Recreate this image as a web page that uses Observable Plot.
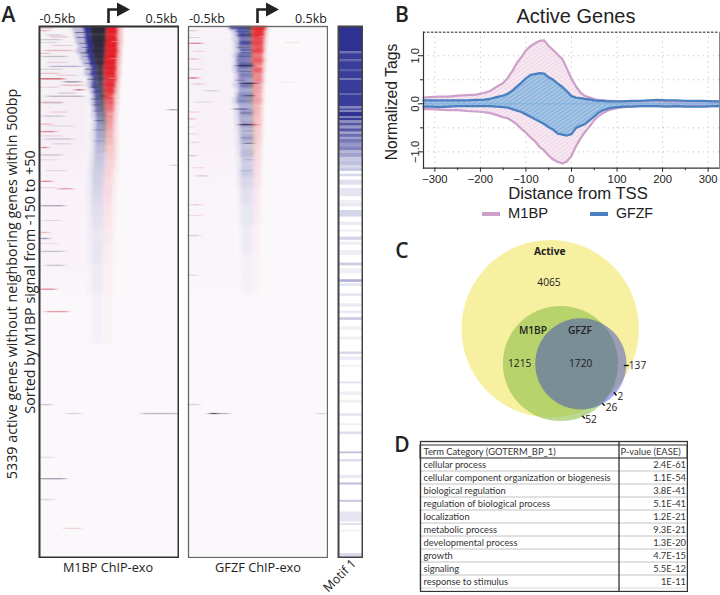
<!DOCTYPE html>
<html><head><meta charset="utf-8">
<script src="https://cdn.jsdelivr.net/npm/d3@7"></script>
<script src="https://cdn.jsdelivr.net/npm/@observablehq/plot@0.6"></script>
<style>
html,body{margin:0;padding:0;background:#fff}
#page{position:relative;width:720px;height:595px;overflow:hidden;background:#fff}
#page svg{position:absolute;background:transparent}
.lab{position:absolute;white-space:nowrap;line-height:1.2;color:#222}
</style></head><body><div id="page"></div>
<script>
// ---------- Panel A: M1BP heatmap profile, one row per gene-rank band (bp from TSS) ----------
const m1bRank=[0,40,85,130,180,230,280,340,400,450,500,560,620,680,740,800,860,920,990,1060,1130,1200,1280,1360,1440,1520,1600,1700,1800,1920,2050,2200,2400,2700];
const m1bFade=[-264,-250,-245,-235,-220,-230,-205,-190,-165,-175,-150,-155,-135,-125,-130,-120,-125,-118,-125,-130,-125,-135,-140,-145,-150,-155,-160,-160,-160,-160,-160,-160,-160,-160];
const m1bBlue=[-180,-172,-168,-165,-156,-160,-146,-135,-122,-128,-115,-120,-105,-98,-100,-95,-90,-88,-90,-92,-95,-100,-105,-110,-115,-118,-120,-120,-120,-120,-120,-120,-120,-120];
const m1bDark=[-135,-130,-128,-125,-118,-120,-110,-100,-88,-92,-85,-82,-75,-72,-70,-65,-60,-55,-50,-45,-40,-40,-40,-40,-40,-40,-45,-45,-45,-45,-45,-45,-45,-45];
const m1bRed=[-12,-15,-14,-18,-20,-20,-24,-26,-30,-30,-28,-30,-28,-25,-22,-20,-15,-12,-12,-14,-15,-18,-20,-22,-25,-30,-35,-35,-35,-35,-35,-35,-35,-35];
const m1bEnd=[62,64,60,66,62,65,60,55,56,52,55,48,44,36,40,38,35,35,34,36,40,44,46,40,30,28,25,25,25,25,25,25,25,25];
const m1bTail=[100,98,100,100,96,95,92,90,84,86,82,80,75,72,74,70,68,66,70,72,72,75,78,75,70,65,62,60,60,60,60,60,60,60];
const m1bBlueOp=[1,1,1,1,1,1,1,1,.95,.95,.9,.85,.85,.85,.75,.7,.62,.55,.48,.42,.36,.3,.26,.23,.21,.19,.17,.15,.13,.11,.09,.07,.05,.03];
const m1bDarkOp=[.95,.95,.95,.95,.92,.92,.9,.88,.85,.85,.8,.7,.65,.6,.5,.4,.3,.25,.18,.1,.08,.05,0,0,0,0,0,0,0,0,0,0,0,0];
const m1bRedOp=[1,1,1,1,1,1,1,1,1,1,.95,.95,.9,.85,.7,.62,.52,.46,.38,.32,.28,.22,.2,.18,.17,.15,.13,.11,.09,.07,.06,.045,.03,.02];
// faint streaks: rank, from bp, to bp, tone, strength
const m1bStreakRank=[40,85,130,240,300,400,470,525,555,590,635,700,760,835,900,980,1055,1130,1215,1290,1395,1555,1630,1800,2070,2130,2260,2400,2640,2865,3800,3890,3890,4330,4545,4755,5045];
const m1bStreakFrom=[-500,-450,-500,-460,-480,-420,-500,-500,-320,-340,-240,-440,-500,430,-480,-500,-500,-460,-480,-500,450,-493,-363,-493,-493,-493,-493,-450,-493,-450,-500,-300,240,-500,-500,-500,-320];
const m1bStreakTo=[-430,-330,-340,-260,-300,-200,-360,-320,-200,-180,-180,-180,-330,500,-320,-400,-380,-260,-440,-340,500,-406,-255,-315,-430,-430,-315,-320,-380,-290,-410,-200,500,-390,-310,-400,-200];
const m1bStreakTone=["r","d","d","r","d","b","r","r","d","r","r","d","r","d","d","r","r","d","r","d","d","r","r","d","r","d","d","d","r","r","d","d","d","d","d","d","r"];
const m1bStreakOp=[.32,.2,.2,.28,.24,.32,.2,.7,.45,.28,.65,.28,.24,.4,.2,.24,.48,.2,.7,.24,.2,.5,.4,.36,.32,.5,.24,.24,.5,.42,.25,.18,.3,.1,.42,.16,.16];
// fine grain inside and left of the peak ("w" = a paler row)
const m1bGrainRank=[60,110,170,210,265,300,370,430,480,530,610,660,730,790,850,945,1040,1150,150,320,520,700,880,20,105,160,190,270,360,430,490,610,670,770,860,1000,1100,1180,1340,1450,1620,1950,2180];
const m1bGrainFrom=[-240,-230,-210,-190,-200,-180,-170,-170,-150,-150,-130,-120,-125,-115,-110,-100,-110,-110,20,10,0,0,-10,-500,-420,-500,-400,-500,-440,-500,-370,-500,-360,-480,-420,-440,-500,-400,-500,-450,-500,-480,-500];
const m1bGrainTo=[-170,-160,-150,-130,-140,-120,-110,-110,-95,-90,-70,-60,-70,-50,-50,-40,-40,-30,80,70,50,50,40,-400,-290,-370,-260,-420,-290,-330,-230,-360,-240,-330,-300,-250,-330,-270,-370,-300,-380,-340,-360];
const m1bGrainTone=["d","b","d","b","d","b","b","d","b","d","d","b","d","d","b","d","b","b","w","w","w","w","w","r","r","d","r","r","r","d","r","r","d","d","r","d","r","d","r","d","r","d","r"];
const m1bGrainOp=[.5,.5,.4,.5,.6,.45,.5,.5,.4,.55,.6,.5,.5,.45,.35,.4,.3,.22,.35,.3,.4,.35,.3,.2,.25,.14,.2,.25,.18,.15,.18,.18,.25,.15,.18,.12,.15,.15,.12,.12,.15,.12,.12];
// pale haze left of the peak
const hazeFrom=[0,700,1400];
const hazeTo=[700,1400,2600];
const m1bHazeOp=[.05,.035,.018];
const gfzfHazeOp=[.03,.025,.014];

// ---------- Panel A: GFZF heatmap profile ----------
const gfzfRank=[0,30,70,110,150,190,230,270,320,370,420,470,520,570,620,670,720,780,840,900,960,1020,1090,1160,1240,1320,1420,1520,1640,1800,2000,2300];
const gfzfFade=[-210,-190,-175,-180,-170,-175,-165,-180,-170,-175,-180,-165,-170,-175,-160,-165,-180,-170,-165,-170,-160,-165,-155,-160,-150,-155,-150,-150,-145,-145,-140,-140];
const gfzfBlue=[-200,-150,-140,-135,-132,-140,-128,-145,-150,-140,-150,-135,-140,-130,-135,-140,-150,-135,-130,-135,-125,-130,-120,-125,-120,-120,-120,-120,-115,-115,-110,-110];
const gfzfDark=[-90,-75,-70,-65,-60,-70,-55,-60,-55,-65,-50,-55,-50,-60,-55,-60,-65,-55,-50,-60,-55,-60,-50,-55,-50,-50,-50,-50,-50,-50,-50,-50];
const gfzfRed=[-35,-35,-36,-35,-38,-36,-34,-34,-36,-30,-32,-30,-28,-30,-28,-26,-28,-26,-28,-26,-24,-26,-24,-26,-24,-24,-24,-24,-24,-24,-24,-24];
const gfzfEnd=[60,48,46,44,40,42,40,36,38,36,34,32,34,28,30,26,28,26,24,26,24,22,24,20,22,20,20,18,18,16,16,16];
const gfzfTail=[76,72,70,66,66,64,60,60,62,58,58,54,56,50,52,50,50,48,46,48,46,44,46,42,42,40,40,38,38,36,34,34];
const gfzfBlueOp=[.95,.7,.85,.6,.9,.55,.8,.65,.6,.8,.5,.6,.45,.65,.4,.55,.5,.35,.5,.35,.45,.3,.4,.25,.3,.2,.22,.16,.12,.08,.05,.03];
const gfzfDarkOp=[.7,.45,.6,.35,.55,.3,.5,.35,.3,.45,.25,.3,.2,.35,.15,.25,.2,.1,.2,.1,.15,.08,.1,.05,.05,0,0,0,0,0,0,0];
const gfzfRedOp=[1,.9,.95,.8,.85,.75,.85,.6,.75,.55,.7,.5,.55,.4,.45,.35,.4,.3,.3,.25,.25,.22,.2,.18,.15,.12,.1,.08,.06,.05,.03,.02];
const gfzfStreakRank=[40,168,325,392,516,570,576,644,694,828,928,985,985,1012,1163,1173,1297,1500,1790,2100,2500,3800,3890,3890,3890];
const gfzfStreakFrom=[-500,-500,-500,-150,-500,-120,-470,-380,-90,-170,-500,-130,-40,-500,-480,-100,-500,-440,-480,-500,-500,-500,-344,-290,430];
const gfzfStreakTo=[-440,-400,-420,-40,-430,-10,-390,-290,-30,-70,-450,-40,0,-470,-430,-30,-450,-360,-400,-420,-440,-420,-290,-200,500];
const gfzfStreakTone=["r","r","r","d","r","d","r","d","d","b","r","d","r","r","r","d","d","d","r","d","d","d","d","d","d"];
const gfzfStreakOp=[.26,.5,.26,.7,.68,.8,.2,.18,.6,.6,.3,.85,.5,.18,.18,.5,.26,.18,.18,.18,.14,.18,.85,.3,.18];
const gfzfGrainRank=[50,90,210,250,300,450,540,750,870,1050,1120,1340,1450,100,400,640,800,110,250,430,760,860,1080,1420,1900,160,560];
const gfzfGrainFrom=[-160,-150,-150,-150,-140,-130,-160,-140,-120,-100,-120,-100,-120,10,0,-10,0,-500,-470,-500,-460,-500,-500,-480,-500,200,150];
const gfzfGrainTo=[-60,-50,-50,-40,-40,-40,-90,-50,-40,-30,-50,-30,-40,50,40,40,35,-420,-380,-400,-340,-420,-430,-380,-400,300,260];
const gfzfGrainTone=["b","d","d","w","d","d","d","b","d","b","d","d","b","w","w","w","w","d","r","r","d","r","r","r","r","r","d"];
const gfzfGrainOp=[.4,.4,.35,.3,.3,.4,.35,.3,.35,.3,.25,.2,.18,.3,.3,.3,.25,.18,.15,.15,.12,.2,.15,.12,.12,.1,.06];

// ---------- Panel A: Motif 1 occupancy bands ----------
const motifFrom=[0,256,273,333,353,440,453,527,540,675,688,808,828,848,865,908,922,948,975,1002,1028,1062,1082,1115,1135,1175,1209,1249,1276,1316,1356,1397,1430,1484,1544,1628,1749,1782,1850,1967,2044,2117,2168,2252,2379,2436,2546,2587,2687,2788,2861,2928,3022,3123,3273,3323,3408,3575,3675,3759,3893,3994,4077,4278,4355,4513,4590,4764,4881,4998,5066,5300];
const motifTo=[256,273,333,353,440,453,527,540,675,688,808,828,848,865,908,922,948,975,1002,1028,1062,1082,1115,1135,1175,1209,1249,1276,1316,1356,1397,1430,1457,1511,1595,1712,1782,1816,1916,2000,2067,2151,2202,2302,2406,2486,2573,2614,2714,2822,2888,2955,3055,3150,3297,3357,3425,3592,3709,3786,3920,4011,4104,4295,4379,4546,4610,4784,4982,5015,5083,5339];
const motifOp=[1,.7,.95,.75,.95,.8,.95,.75,.95,.85,.95,.6,.9,.6,1,.65,.95,.55,.8,.5,.8,.45,.7,.45,.65,.5,.6,.35,.45,.25,.3,.2,.28,.18,.15,.12,.07,.1,.2,.1,.07,.2,.08,.08,.25,.08,.38,.12,.12,.1,.1,.25,.07,.08,.2,.1,.08,.16,.08,.08,.12,.08,.16,.32,.16,.1,.32,.28,.12,.16,.07,.18];

// ---------- Panel B: average tag profiles ----------
const tssDistance=[-325,-310,-290,-270,-250,-230,-210,-195,-180,-165,-150,-140,-130,-120,-110,-100,-90,-80,-70,-60,-50,-40,-30,-20,-10,0,10,20,30,40,50,60,70,80,90,100,115,130,150,170,190,210,230,250,270,290,310,325];
const m1bUpper=[.13,.14,.15,.15,.17,.18,.19,.22,.26,.35,.43,.54,.68,.85,.97,1.11,1.2,1.26,1.31,1.32,1.2,1.12,1.02,.93,.73,.52,.36,.23,.16,.13,.1,.08,.07,.06,.06,.05,.05,.05,.05,.06,.06,.05,.05,.05,.05,.05,.05,.05];
const m1bLower=[-.11,-.11,-.12,-.13,-.13,-.15,-.16,-.17,-.19,-.23,-.28,-.3,-.36,-.43,-.52,-.6,-.7,-.78,-.9,-.97,-1.08,-1.16,-1.21,-1.24,-1.2,-1.08,-.88,-.72,-.58,-.47,-.34,-.25,-.19,-.14,-.11,-.09,-.07,-.06,-.05,-.05,-.05,-.05,-.05,-.05,-.05,-.05,-.05,-.05];
const gfzfUpper=[.07,.07,.07,.07,.07,.07,.08,.08,.1,.14,.17,.21,.27,.36,.44,.53,.6,.62,.64,.63,.55,.5,.42,.35,.26,.16,.13,.12,.1,.09,.07,.06,.06,.05,.05,.05,.05,.06,.06,.07,.08,.07,.07,.06,.06,.06,.05,.05];
const gfzfLower=[-.06,-.06,-.07,-.06,-.05,-.05,-.05,-.05,-.05,-.06,-.07,-.08,-.11,-.14,-.17,-.22,-.27,-.32,-.37,-.42,-.49,-.54,-.62,-.64,-.66,-.63,-.5,-.46,-.42,-.34,-.26,-.18,-.13,-.1,-.08,-.07,-.06,-.06,-.05,-.05,-.05,-.06,-.05,-.06,-.06,-.06,-.05,-.05];

// ---------- Panel C: Venn counts ----------
const vennSets=["Active","M1BP","GFZF"];
const vennTotals=[7139,3013,1885];
const vennCounts=["4065","1215","1720","137","2","26","52"];

// ---------- Panel D: GO table ----------
const goHeader="Term Category (GOTERM_BP_1)";
const goPHeader="P-value (EASE)";
const goTerms=["cellular process","cellular component organization or biogenesis","biological regulation","regulation of biological process","localization","metabolic process","developmental process","growth","signaling","response to stimulus"];
const goP=["2.4E-61","1.1E-54","3.8E-41","5.1E-41","1.2E-21","9.3E-21","1.3E-20","4.7E-15","5.5E-12","1E-11"];

// ---------- helpers ----------
const page=document.getElementById("page");
const ui='"Open Sans",sans-serif', hv='"Liberation Sans",sans-serif';
function label(t,x,y,o={}){
  const d=document.createElement("div");d.className="lab";d.textContent=t;
  d.style.left=x+"px";d.style.top=y+"px";
  d.style.fontFamily=o.font||ui;d.style.fontSize=(o.size||12)+"px";
  if(o.weight)d.style.fontWeight=o.weight;
  if(o.color)d.style.color=o.color;
  const a=o.anchor==="start"?"0":"-50%";
  d.style.transform=`translate(${a},-50%) rotate(${o.rot||0}deg)`;
  page.appendChild(d);
}
function place(svg,left,top,extra={}){svg.style.left=left+"px";svg.style.top=top+"px";Object.assign(svg.style,extra);page.appendChild(svg);}
const BLUE="#2b2f90",DARK="#1c1a2b",RED="#e41f26",TONE={r:"#c2182c",d:"#2a2440",b:"#2b2f90",w:"#ffffff"};

const defs=document.createElementNS("http://www.w3.org/2000/svg","svg");
defs.setAttribute("width",0);defs.setAttribute("height",0);
defs.innerHTML=`<defs>
<filter id="blurPeak" x="-10%" y="-10%" width="120%" height="120%"><feGaussianBlur stdDeviation="1.5 0.8"/></filter>
<filter id="blurStreak" x="-10%" y="-10%" width="120%" height="120%"><feGaussianBlur stdDeviation="2.4 0.35"/></filter>
<filter id="blurGrain" x="-10%" y="-10%" width="120%" height="120%"><feGaussianBlur stdDeviation="1.2 0.3"/></filter>
<filter id="blurHaze" x="-10%" y="-10%" width="120%" height="120%"><feGaussianBlur stdDeviation="6 12"/></filter>
<pattern id="hatchPink" width="3.2" height="3.2" patternUnits="userSpaceOnUse" patternTransform="rotate(55)"><rect width="3.2" height="3.2" fill="#f7e8f1"/><rect width="1.1" height="3.2" fill="#eed6e7"/></pattern>
<pattern id="hatchBlue" width="3.2" height="3.2" patternUnits="userSpaceOnUse" patternTransform="rotate(55)"><rect width="3.2" height="3.2" fill="#a8c6e6"/><rect width="1.2" height="3.2" fill="#86aeda"/></pattern>
</defs>`;
page.appendChild(defs);

function pieces(rank,fade,blue,dark,red,end,tail,bo,dko,ro,last){
  return rank.flatMap((r,i)=>{
    const y2=i+1<rank.length?rank[i+1]:last;
    return [
      {y1:r,y2,x1:fade[i],x2:blue[i],f:BLUE,o:bo[i]*.28},
      {y1:r,y2,x1:blue[i],x2:dark[i],f:BLUE,o:bo[i]},
      {y1:r,y2,x1:dark[i],x2:red[i],f:dko[i]>.02?DARK:BLUE,o:Math.max(dko[i],bo[i]*.9)},
      {y1:r,y2,x1:red[i],x2:end[i],f:RED,o:ro[i]},
      {y1:r,y2,x1:end[i],x2:tail[i],f:RED,o:ro[i]*.28}
    ];
  });
}
const lines=(rank,from,to,tone,op,h)=>rank.map((r,i)=>({y1:r,y2:r+h,x1:from[i],x2:to[i],f:TONE[tone[i]],o:op[i]}));
function heat(left,segs,streaks,grain,hazeOp,frameColor,frameW){
  const haze=hazeFrom.map((a,i)=>({y1:a,y2:hazeTo[i],x1:-500,x2:-130,o:hazeOp[i]}));
  const svg=Plot.plot({width:141,height:533,margin:1,
    x:{domain:[-500,500],axis:null},y:{domain:[0,5339],reverse:true,axis:null},
    marks:[
      Plot.rect([{}],{x1:()=>-500,x2:()=>500,y1:()=>0,y2:()=>5339,fill:"#fbf8fb"}),
      Plot.rect(haze,{x1:"x1",x2:"x2",y1:"y1",y2:"y2",fill:"#6a3a70",fillOpacity:"o",imageFilter:"url(#blurHaze)"}),
      Plot.rect(segs,{x1:"x1",x2:"x2",y1:"y1",y2:"y2",fill:"f",fillOpacity:"o",imageFilter:"url(#blurPeak)"}),
      Plot.rect(streaks,{x1:"x1",x2:"x2",y1:"y1",y2:"y2",fill:"f",fillOpacity:"o",imageFilter:"url(#blurStreak)"}),
      Plot.rect(grain,{x1:"x1",x2:"x2",y1:"y1",y2:"y2",fill:"f",fillOpacity:"o",imageFilter:"url(#blurGrain)"}),
      Plot.frame({stroke:frameColor,strokeWidth:frameW})
    ]});
  place(svg,left,25,{filter:"blur(0.3px)"});
}

// ---------- Panel A ----------
heat(38,pieces(m1bRank,m1bFade,m1bBlue,m1bDark,m1bRed,m1bEnd,m1bTail,m1bBlueOp,m1bDarkOp,m1bRedOp,3200),
  lines(m1bStreakRank,m1bStreakFrom,m1bStreakTo,m1bStreakTone,m1bStreakOp,13),
  lines(m1bGrainRank,m1bGrainFrom,m1bGrainTo,m1bGrainTone,m1bGrainOp,10),m1bHazeOp,"#333",2);
heat(187,pieces(gfzfRank,gfzfFade,gfzfBlue,gfzfDark,gfzfRed,gfzfEnd,gfzfTail,gfzfBlueOp,gfzfDarkOp,gfzfRedOp,2700),
  lines(gfzfStreakRank,gfzfStreakFrom,gfzfStreakTo,gfzfStreakTone,gfzfStreakOp,13),
  lines(gfzfGrainRank,gfzfGrainFrom,gfzfGrainTo,gfzfGrainTone,gfzfGrainOp,10),gfzfHazeOp,"#666",1.3);

const motifRows=motifFrom.map((a,i)=>({y1:a,y2:motifTo[i],o:motifOp[i]}));
place(Plot.plot({width:26,height:533,margin:1,x:{axis:null,domain:[0,1]},y:{domain:[0,5339],reverse:true,axis:null},
  marks:[
    Plot.rect(motifRows,{x1:()=>0,x2:()=>1,y1:"y1",y2:"y2",fill:"#2e3192",fillOpacity:"o"}),
    Plot.frame({stroke:"#444",strokeWidth:2})
  ]}),337,25,{filter:"blur(0.35px)"});

// TSS arrows (decorative glyphs)
for(const tx of [108,257.5]){
  const ns="http://www.w3.org/2000/svg",s=document.createElementNS(ns,"svg");
  s.setAttribute("width",30);s.setAttribute("height",26);
  const p=document.createElementNS(ns,"path");
  p.setAttribute("d","M1.5 23V9.5H11");p.setAttribute("fill","none");p.setAttribute("stroke","#222");p.setAttribute("stroke-width","2.6");
  const h=document.createElementNS(ns,"path");h.setAttribute("d","M10 2.5L23 9.5L10 16.5Z");h.setAttribute("fill","#222");
  s.append(p,h);place(s,tx-1.5,0);
}
label("-0.5kb",57.5,18,{size:12.5});label("0.5kb",161.5,18,{size:12.5});
label("-0.5kb",207,18,{size:12.5});label("0.5kb",311,18,{size:12.5});
label("M1BP ChIP-exo",108,567.5,{size:12.7});label("GFZF ChIP-exo",258,567.5,{size:12.8});
label("Motif 1",340,576,{size:12.3,rot:-45});
label("5339 active genes without neighboring genes within 500bp",11.5,284,{size:14.3,rot:-90});
label("Sorted by M1BP signal from -150 to +50",30,282,{size:14.3,rot:-90});
label("A",8.5,14.5,{size:21,weight:600});label("B",402,14.5,{size:21,weight:600});
label("C",402,251,{size:21,weight:600});label("D",402,445,{size:21,weight:600});

// ---------- Panel B ----------
const profile=tssDistance.map((x,i)=>({x,mu:m1bUpper[i],ml:m1bLower[i],gu:gfzfUpper[i],gl:gfzfLower[i]}));
const PINK="#cd9fcb",BLU="#4a80c2";
const yTop=1.49,yBot=-1.34;
const pB=Plot.plot({width:345,height:200,marginLeft:48,marginRight:1,marginTop:31.7,marginBottom:32.3,
  x:{domain:[-325,325],axis:null},y:{domain:[yBot,yTop],axis:null},
  style:{fontFamily:hv,color:"#222"},
  marks:[
    Plot.ruleX([-300,-200,-100,0,100,200,300],{stroke:"#bbb",strokeDasharray:"1,4"}),
    Plot.ruleY([-1,-.5,0,.5,1],{stroke:"#bbb",strokeDasharray:"1,4"}),
    Plot.areaY(profile,{x:"x",y1:"ml",y2:"mu",fill:"url(#hatchPink)",curve:"linear"}),
    Plot.areaY(profile,{x:"x",y1:"gl",y2:"gu",fill:"url(#hatchBlue)",curve:"linear"}),
    Plot.line(profile,{x:"x",y:"mu",stroke:PINK,strokeWidth:2.2}),
    Plot.line(profile,{x:"x",y:"ml",stroke:PINK,strokeWidth:2.2}),
    Plot.ruleY([0],{stroke:"#7fb0dd",strokeWidth:1}),
    Plot.line(profile,{x:"x",y:"gu",stroke:BLU,strokeWidth:2.3}),
    Plot.line(profile,{x:"x",y:"gl",stroke:BLU,strokeWidth:2.3}),
    Plot.axisX({ticks:[-300,-200,-100,0,100,200,300],tickSize:4,tickPadding:3,fontSize:11.3,label:null,tickFormat:d=>d<0?"\u2212"+(-d):String(d)}),
    Plot.axisX({ticks:[-250,-150,-50,50,150,250],tickSize:2.5,label:null,tickFormat:()=>""}),
    Plot.axisY({ticks:[-1,0,1],tickSize:4,tickPadding:1,fontSize:11.3,label:null,tickRotate:-90,tickFormat:d=>d.toFixed(1).replace("-","\u2212")}),
    Plot.axisY({ticks:[-.5,.5],tickSize:3,label:null,tickFormat:()=>""}),
    Plot.frame({anchor:"left",stroke:"#333",strokeWidth:1.2}),
    Plot.frame({anchor:"bottom",stroke:"#333",strokeWidth:1.2}),
    Plot.frame({anchor:"right",stroke:"#888"}),
    Plot.ruleY([yTop],{stroke:"#222",strokeDasharray:"2.5,1.5",strokeWidth:1})
  ]});
place(pB,375,0);
label("Active Genes",576,15.5,{font:hv,size:20});
label("Distance from TSS",578,194,{font:hv,size:16.7});
label("Normalized Tags",391.5,101.5,{font:hv,size:15.7,rot:-90});
label("M1BP",508,214,{font:hv,size:14.7,anchor:"start"});
label("GFZF",616,214,{font:hv,size:14.2,anchor:"start"});
for(const [l,c] of [[481.5,PINK],[590,BLU]]){
  const d=document.createElement("div");
  Object.assign(d.style,{position:"absolute",left:l+"px",top:"212px",width:"18px",height:"4px",background:c});
  page.appendChild(d);
}

// ---------- Panel C ----------
const vennLayout={x:[549.7,560,580.3],y:[328.3,363,363.3],fill:["#f6f0a0","#8fc04a","#2e3aca"],op:[1,.6,.45]};
const venn=vennSets.map((s,i)=>({s,n:vennTotals[i],x:vennLayout.x[i],y:vennLayout.y[i],f:vennLayout.fill[i],o:vennLayout.op[i]}));
const leaders=[[623.3,365,628.3,365],[613.3,391.7,616,395],[601.7,402.7,604.3,405.3],[581.7,415.3,584.3,418]];
place(Plot.plot({width:220,height:195,margin:0,
  x:{domain:[440,660],axis:null},y:{domain:[430,235],axis:null},
  r:{type:"sqrt",domain:[0,7139],range:[0,88.7]},
  marks:[
    Plot.dot(venn,{x:"x",y:"y",r:"n",fill:"f",fillOpacity:"o"}),
    Plot.link(leaders,{x1:d=>d[0],y1:d=>d[1],x2:d=>d[2],y2:d=>d[3],stroke:"#111",strokeWidth:1.4})
  ]}),440,235);
const vs={size:10.2,color:"#222"};
label(vennSets[0],549.7,250.7,{...vs,weight:700});
label(vennCounts[0],549,282,vs);
label(vennSets[1],533,330,{...vs,weight:600});
label(vennSets[2],580,330,{...vs,weight:600});
label(vennCounts[1],519.7,362.7,vs);
label(vennCounts[2],580.7,362.7,vs);
label(vennCounts[3],637.5,365,vs);
label(vennCounts[4],620.5,395.7,vs);
label(vennCounts[5],611.5,406.7,vs);
label(vennCounts[6],591,419.3,vs);

// ---------- Panel D ----------
const rows=[goHeader,...goTerms];
place(Plot.plot({width:269,height:152,margin:1,
  x:{domain:[0,1],axis:null},y:{domain:rows,axis:null,padding:0},
  style:{fontFamily:'Lato,sans-serif',color:"#222"},
  marks:[
    Plot.cell(goTerms,{y:d=>d,stroke:"#cfcfcf",strokeWidth:.8,fill:"none"}),
    Plot.cell([goHeader],{y:d=>d,stroke:"#333",strokeWidth:1,fill:"none"}),
    Plot.text(rows,{y:d=>d,text:d=>d,frameAnchor:"left",textAnchor:"start",dx:3,fontSize:9.35,fill:"#333"}),
    Plot.text(goTerms,{y:d=>d,text:(d,i)=>goP[i],frameAnchor:"right",textAnchor:"end",dx:-1.5,fontSize:9.35,fill:"#333"}),
    Plot.text([goPHeader],{y:()=>goHeader,text:d=>d,frameAnchor:"left",textAnchor:"start",dx:200,fontSize:9.35,fill:"#333"}),
    Plot.ruleX([.7435],{stroke:"#222",strokeWidth:1.2}),
    Plot.frame({stroke:"#333",strokeWidth:1.3})
  ]}),419,439.5);
</script></body></html>
